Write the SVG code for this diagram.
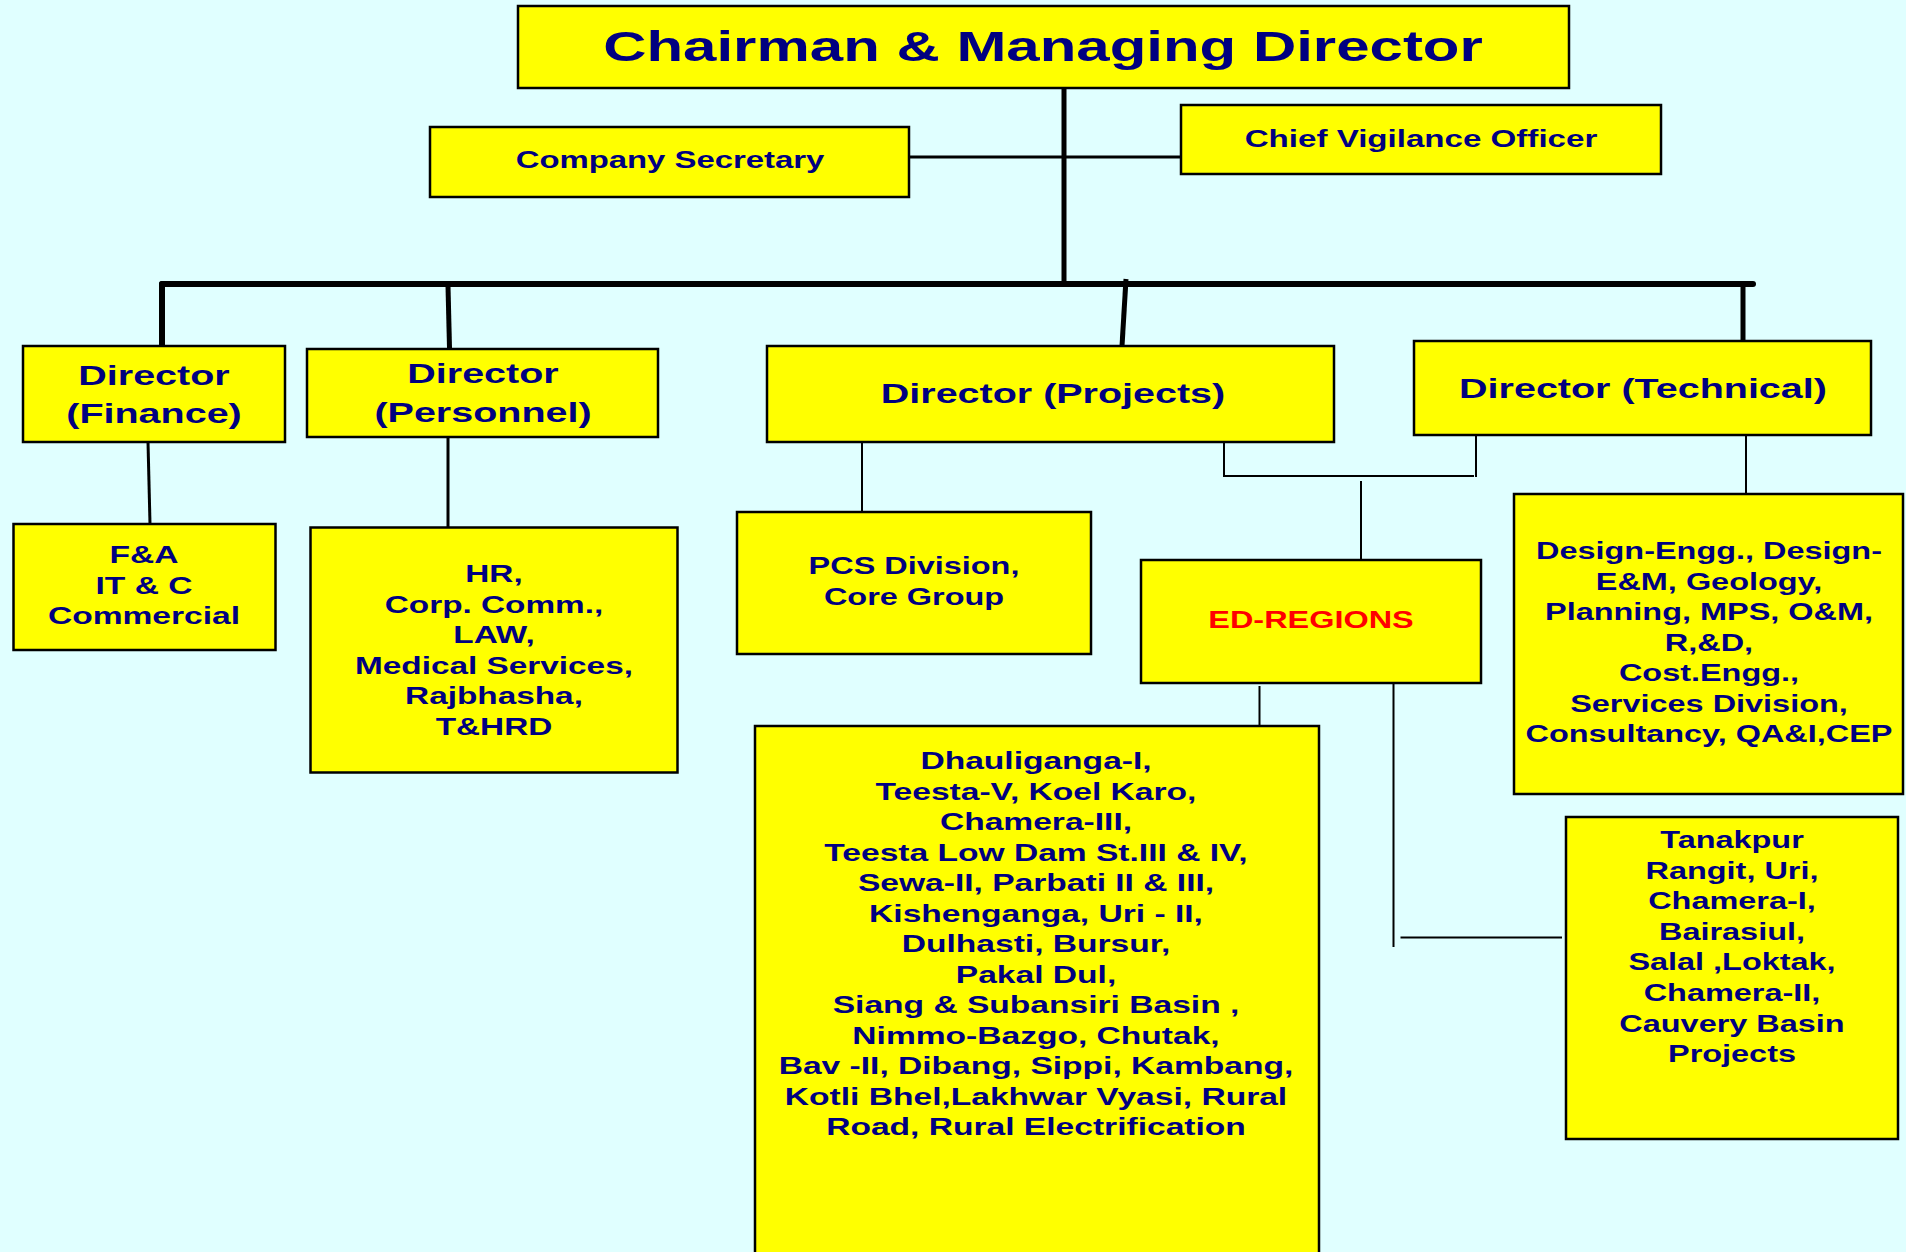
<svg xmlns="http://www.w3.org/2000/svg" width="1906" height="1252" viewBox="0 0 1906 1252">
<style>
.bg{fill:#E0FFFF}
.box{fill:#FFFF00;stroke:#000;stroke-width:2.5}
text{font-family:"Liberation Sans",Arial,sans-serif;font-weight:bold;fill:#000080;text-anchor:middle}
.t43{font-size:43px}
.t28{font-size:28px}
.t24{font-size:24px}
.t23{font-size:23px}
.red{fill:#FF0000}
.c6{stroke:#000;stroke-width:6;fill:none;stroke-linecap:round}
.c5{stroke:#000;stroke-width:5;fill:none}
.c3{stroke:#000;stroke-width:3;fill:none}
.c2{stroke:#000;stroke-width:2;fill:none}
</style>
<rect class="bg" x="0" y="0" width="1906" height="1252"/>
<g id="connectors">
  <line class="c5" x1="1064" y1="88" x2="1064" y2="286"/>
  <line class="c3" x1="909" y1="157" x2="1181" y2="157"/>
  <line class="c6" x1="162" y1="284" x2="1753" y2="284"/>
  <line class="c6" x1="162" y1="284" x2="162" y2="350"/>
  <line class="c5" x1="448" y1="286" x2="449.5" y2="348"/>
  <line class="c5" x1="1126" y1="279" x2="1122" y2="346"/>
  <line class="c5" x1="1743" y1="284" x2="1743" y2="341"/>
  <line class="c3" x1="148" y1="442" x2="150" y2="524"/>
  <line class="c3" x1="448" y1="437" x2="448" y2="527"/>
  <line class="c2" x1="862" y1="442" x2="862" y2="512"/>
  <polyline class="c2" points="1224,437 1224,476 1474,476"/>
  <line class="c2" x1="1476" y1="435" x2="1476" y2="477"/>
  <line class="c2" x1="1361" y1="481" x2="1361" y2="560"/>
  <line class="c2" x1="1746" y1="435" x2="1746" y2="498"/>
  <line class="c2" x1="1259.5" y1="686" x2="1259.5" y2="733"/>
  <line class="c2" x1="1393.5" y1="683" x2="1393.5" y2="947"/>
  <line class="c2" x1="1400.5" y1="937.5" x2="1562" y2="937.5"/>
</g>
<g id="cmd">
  <rect class="box" x="518" y="6" width="1051" height="82"/>
  <text class="t43" transform="matrix(1.395 0 0 1 1043 61)">Chairman &amp; Managing Director</text>
</g>
<g id="company-secretary">
  <rect class="box" x="430" y="127" width="479" height="70"/>
  <text class="t24" transform="matrix(1.37 0 0 1 670 168)">Company Secretary</text>
</g>
<g id="cvo">
  <rect class="box" x="1181" y="105" width="480" height="69"/>
  <text class="t24" transform="matrix(1.38 0 0 1 1421 147)">Chief Vigilance Officer</text>
</g>
<g id="dir-finance">
  <rect class="box" x="23" y="346" width="262" height="96"/>
  <text class="t28" transform="matrix(1.41 0 0 1 154 385)">Director</text>
  <text class="t28" transform="matrix(1.41 0 0 1 154 423)">(Finance)</text>
</g>
<g id="dir-personnel">
  <rect class="box" x="307" y="349" width="351" height="88"/>
  <text class="t28" transform="matrix(1.41 0 0 1 483 383)">Director</text>
  <text class="t28" transform="matrix(1.41 0 0 1 483 422)">(Personnel)</text>
</g>
<g id="dir-projects">
  <rect class="box" x="767" y="346" width="567" height="96"/>
  <text class="t28" transform="matrix(1.41 0 0 1 1053 403)">Director (Projects)</text>
</g>
<g id="dir-technical">
  <rect class="box" x="1414" y="341" width="457" height="94"/>
  <text class="t28" transform="matrix(1.41 0 0 1 1643 398)">Director (Technical)</text>
</g>
<g id="finance-units">
  <rect class="box" x="13.5" y="524" width="262" height="126"/>
  <text class="t23" transform="matrix(1.46 0 0 1 144 563)">F&amp;A</text>
  <text class="t23" transform="matrix(1.46 0 0 1 144 594)">IT &amp; C</text>
  <text class="t23" transform="matrix(1.46 0 0 1 144 624)">Commercial</text>
</g>
<g id="personnel-units">
  <rect class="box" x="310.5" y="527.5" width="367" height="245"/>
  <text class="t23" transform="matrix(1.45 0 0 1 494 582)">HR,</text>
  <text class="t23" transform="matrix(1.45 0 0 1 494 612.5)">Corp. Comm.,</text>
  <text class="t23" transform="matrix(1.45 0 0 1 494 643)">LAW,</text>
  <text class="t23" transform="matrix(1.45 0 0 1 494 673.5)">Medical Services,</text>
  <text class="t23" transform="matrix(1.45 0 0 1 494 704)">Rajbhasha,</text>
  <text class="t23" transform="matrix(1.45 0 0 1 494 734.5)">T&amp;HRD</text>
</g>
<g id="pcs">
  <rect class="box" x="737" y="512" width="354" height="142"/>
  <text class="t23" transform="matrix(1.41 0 0 1 914 574)">PCS Division,</text>
  <text class="t23" transform="matrix(1.41 0 0 1 914 605)">Core Group</text>
</g>
<g id="ed-regions">
  <rect class="box" x="1141" y="560" width="340" height="123"/>
  <text class="t23 red" transform="matrix(1.41 0 0 1 1311 628)">ED-REGIONS</text>
</g>
<g id="technical-units">
  <rect class="box" x="1514" y="494" width="389" height="300"/>
  <text class="t23" transform="matrix(1.41 0 0 1 1709 559)">Design-Engg., Design-</text>
  <text class="t23" transform="matrix(1.41 0 0 1 1709 589.5)">E&amp;M, Geology,</text>
  <text class="t23" transform="matrix(1.41 0 0 1 1709 620)">Planning, MPS, O&amp;M,</text>
  <text class="t23" transform="matrix(1.41 0 0 1 1709 650.5)">R,&amp;D,</text>
  <text class="t23" transform="matrix(1.41 0 0 1 1709 681)">Cost.Engg.,</text>
  <text class="t23" transform="matrix(1.41 0 0 1 1709 711.5)">Services Division,</text>
  <text class="t23" transform="matrix(1.41 0 0 1 1709 742)">Consultancy, QA&amp;I,CEP</text>
</g>
<g id="projects-list">
  <rect class="box" x="755" y="726" width="564" height="540"/>
  <text class="t23" transform="matrix(1.46 0 0 1 1036 769)">Dhauliganga-I,</text>
  <text class="t23" transform="matrix(1.46 0 0 1 1036 799.5)">Teesta-V, Koel Karo,</text>
  <text class="t23" transform="matrix(1.46 0 0 1 1036 830)">Chamera-III,</text>
  <text class="t23" transform="matrix(1.46 0 0 1 1036 860.5)">Teesta Low Dam St.III &amp; IV,</text>
  <text class="t23" transform="matrix(1.46 0 0 1 1036 891)">Sewa-II, Parbati II &amp; III,</text>
  <text class="t23" transform="matrix(1.46 0 0 1 1036 921.5)">Kishenganga, Uri - II,</text>
  <text class="t23" transform="matrix(1.46 0 0 1 1036 952)">Dulhasti, Bursur,</text>
  <text class="t23" transform="matrix(1.46 0 0 1 1036 982.5)">Pakal Dul,</text>
  <text class="t23" transform="matrix(1.46 0 0 1 1036 1013)">Siang &amp; Subansiri Basin ,</text>
  <text class="t23" transform="matrix(1.46 0 0 1 1036 1043.5)">Nimmo-Bazgo, Chutak,</text>
  <text class="t23" transform="matrix(1.46 0 0 1 1036 1074)">Bav -II, Dibang, Sippi, Kambang,</text>
  <text class="t23" transform="matrix(1.46 0 0 1 1036 1104.5)">Kotli Bhel,Lakhwar Vyasi, Rural</text>
  <text class="t23" transform="matrix(1.46 0 0 1 1036 1135)">Road, Rural Electrification</text>
</g>
<g id="regions-list">
  <rect class="box" x="1566" y="817" width="332" height="322"/>
  <text class="t23" transform="matrix(1.41 0 0 1 1732 848)">Tanakpur</text>
  <text class="t23" transform="matrix(1.41 0 0 1 1732 878.6)">Rangit, Uri,</text>
  <text class="t23" transform="matrix(1.41 0 0 1 1732 909.2)">Chamera-I,</text>
  <text class="t23" transform="matrix(1.41 0 0 1 1732 939.8)">Bairasiul,</text>
  <text class="t23" transform="matrix(1.41 0 0 1 1732 970.4)">Salal ,Loktak,</text>
  <text class="t23" transform="matrix(1.41 0 0 1 1732 1001)">Chamera-II,</text>
  <text class="t23" transform="matrix(1.41 0 0 1 1732 1031.6)">Cauvery Basin</text>
  <text class="t23" transform="matrix(1.41 0 0 1 1732 1062.2)">Projects</text>
</g>
</svg>
